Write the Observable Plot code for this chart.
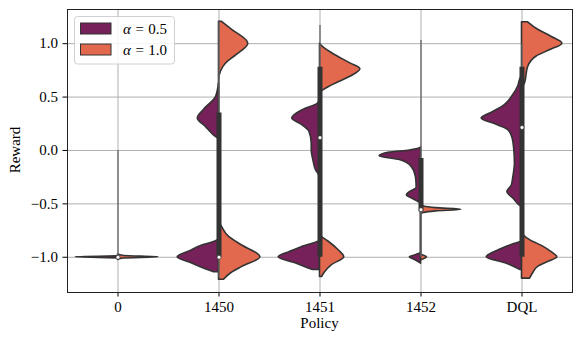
<!DOCTYPE html>
<html>
<head>
<meta charset="utf-8">
<script src="https://cdn.jsdelivr.net/npm/d3@7"></script>
<script src="https://cdn.jsdelivr.net/npm/@observablehq/plot@0.6"></script>
<style>
  html, body { margin: 0; padding: 0; background: #fff; }
  #chart { width: 582px; height: 343px; }
</style>
</head>
<body>
<div id="chart"></div>
<script>
// ---- categories / series ----
const policies = ["0", "1450", "1451", "1452", "DQL"];
const hueLabels = ["0.5", "1.0"];
const hueColors = ["#762159", "#e2694e"];
const yTicks = [-1.0, -0.5, 0.0, 0.5, 1.0];

// half-violin density profiles: [reward, half-width in category units]
const v0_a05 = [[-1.01, 0], [-1.0, 0.42], [-0.99, 0]];
const v0_a10 = [[-1.025, 0], [-1.012, 0.06], [-1.0, 0.40], [-0.988, 0.06], [-0.975, 0]];

const v1450_a05 = [[-1.14, 0.05], [-1.105, 0.15], [-1.06, 0.26], [-1.0, 0.41], [-0.94, 0.28], [-0.89, 0.165], [-0.85, 0.03], [-0.83, 0], [0.10, 0], [0.14, 0.05], [0.22, 0.13], [0.30, 0.21], [0.38, 0.15], [0.50, 0.03], [0.63, 0]];
const v1450_a10 = [[-1.21, 0.05], [-1.15, 0.12], [-1.09, 0.23], [-1.0, 0.41], [-0.89, 0.23], [-0.81, 0.10], [-0.715, 0.03], [-0.66, 0], [0.65, 0], [0.74, 0.02], [0.815, 0.07], [0.89, 0.17], [1.0, 0.29], [1.13, 0.13], [1.205, 0.03]];

const v1451_a05 = [[-1.12, 0.07], [-1.06, 0.23], [-1.0, 0.41], [-0.95, 0.30], [-0.90, 0.165], [-0.84, 0], [-0.25, 0], [-0.185, 0.04], [-0.09, 0.066], [0.0, 0.082], [0.065, 0.082], [0.175, 0.105], [0.24, 0.18], [0.30, 0.275], [0.38, 0.165], [0.44, 0.02], [0.48, 0]];
const v1451_a10 = [[-1.185, 0.02], [-1.14, 0.05], [-1.075, 0.115], [-1.0, 0.24], [-0.93, 0.18], [-0.85, 0.08], [-0.81, 0.02], [-0.78, 0], [0.53, 0], [0.61, 0.12], [0.69, 0.30], [0.76, 0.40], [0.815, 0.30], [0.91, 0.12], [0.96, 0.04], [1.0, 0]];

const v1452_a05 = [[-1.06, 0], [-1.03, 0.05], [-1.0, 0.11], [-0.98, 0.05], [-0.955, 0], [-0.50, 0], [-0.48, 0.027], [-0.45, 0.09], [-0.42, 0.14], [-0.39, 0.11], [-0.35, 0.043], [-0.25, 0.05], [-0.155, 0.092], [-0.09, 0.21], [-0.055, 0.41], [-0.02, 0.31], [0.0, 0.11], [0.02, 0.01], [0.03, 0]];
const v1452_a10 = [[-1.03, 0], [-1.0, 0.06], [-0.97, 0], [-0.60, 0], [-0.585, 0.03], [-0.57, 0.15], [-0.555, 0.40], [-0.54, 0.15], [-0.525, 0.03], [-0.51, 0]];

const vDQL_a05 = [[-1.12, 0.015], [-1.06, 0.15], [-1.0, 0.35], [-0.96, 0.29], [-0.93, 0.22], [-0.88, 0.09], [-0.855, 0.01], [-0.84, 0], [-0.54, 0], [-0.50, 0.04], [-0.45, 0.086], [-0.39, 0.145], [-0.325, 0.10], [-0.25, 0.086], [-0.12, 0.07], [0.0, 0.076], [0.11, 0.092], [0.19, 0.135], [0.24, 0.25], [0.30, 0.40], [0.36, 0.285], [0.425, 0.17], [0.50, 0.10], [0.60, 0.037], [0.66, 0.02], [0.70, 0]];
const vDQL_a10 = [[-1.2, 0.08], [-1.15, 0.11], [-1.09, 0.16], [-1.04, 0.27], [-1.0, 0.35], [-0.95, 0.29], [-0.9, 0.21], [-0.84, 0.08], [-0.76, 0], [0.565, 0], [0.63, 0.03], [0.78, 0.06], [0.88, 0.145], [0.94, 0.28], [1.0, 0.40], [1.065, 0.29], [1.13, 0.16], [1.2, 0.06]];

// inner box statistics per policy
const boxQ1 = [-1.0, -1.0, -1.0, -0.575, -1.0];
const boxQ3 = [-1.0, 0.35, 0.78, -0.075, 0.78];
const boxMedian = [-1.0, -1.0, 0.12, -0.555, 0.215];
const whiskerLo = [-1.0, -1.2, -1.0, -1.0, -1.0];
const whiskerHi = [0.0, 1.2, 1.17, 1.03, 1.0];

// ---- build tables ----
const leftProfiles = [v0_a05, v1450_a05, v1451_a05, v1452_a05, vDQL_a05];
const rightProfiles = [v0_a10, v1450_a10, v1451_a10, v1452_a10, vDQL_a10];
const toRows = (profiles) => profiles.flatMap((prof, i) => prof.map(([r, w]) => ({i, r, w})));
const leftRows = toRows(leftProfiles);
const rightRows = toRows(rightProfiles);
const boxes = policies.map((p, i) => ({i, q1: boxQ1[i], q3: boxQ3[i], med: boxMedian[i], lo: whiskerLo[i], hi: whiskerHi[i]}));

const FONT = "Liberation Serif, Times New Roman, serif";
const edge = "#333333";

const plot = Plot.plot({
  width: 582,
  height: 343,
  marginLeft: 67,
  marginRight: 10,
  marginTop: 9,
  marginBottom: 51,
  style: {fontFamily: FONT, fontSize: "15px", color: "#000", background: "#fff", overflow: "visible"},
  x: {domain: [-0.5, 4.5], ticks: [0, 1, 2, 3, 4], tickFormat: (d) => policies[d], tickSize: 4.5, tickPadding: 4, label: null},
  y: {domain: [-1.33, 1.32], ticks: yTicks, tickFormat: d3.format(".1f"), tickSize: 4.5, tickPadding: 5, label: null},
  marks: [
    Plot.gridX([0, 1, 2, 3, 4], {stroke: "#b0b0b0", strokeOpacity: 1, strokeWidth: 1}),
    Plot.gridY(yTicks, {stroke: "#b0b0b0", strokeOpacity: 1, strokeWidth: 1}),
    Plot.areaX(leftRows, {y: "r", x1: "i", x2: (d) => d.i - d.w, z: "i", fill: hueColors[0], stroke: edge, strokeWidth: 1.6, strokeLinejoin: "round", curve: "monotone-y"}),
    Plot.areaX(rightRows, {y: "r", x1: "i", x2: (d) => d.i + d.w, z: "i", fill: hueColors[1], stroke: edge, strokeWidth: 1.6, strokeLinejoin: "round", curve: "monotone-y"}),
    Plot.ruleX(boxes, {x: "i", y1: "lo", y2: "hi", stroke: "#666", strokeWidth: 1.3}),
    Plot.ruleX(boxes, {x: "i", y1: "q1", y2: "q3", stroke: edge, strokeWidth: 5}),
    Plot.dot(boxes, {x: "i", y: "med", r: 2, fill: "white", stroke: edge, strokeWidth: 0.7}),
    Plot.frame({stroke: "#222", strokeWidth: 1})
  ]
});

document.getElementById("chart").appendChild(plot);

// axis titles and legend
const svg = d3.select(plot);
svg.append("text")
  .attr("transform", "translate(20,150) rotate(-90)")
  .attr("text-anchor", "middle")
  .attr("font-family", FONT).attr("font-size", "15px").attr("fill", "#000")
  .text("Reward");
svg.append("text")
  .attr("x", 319.5).attr("y", 328)
  .attr("text-anchor", "middle")
  .attr("font-family", FONT).attr("font-size", "15px").attr("fill", "#000")
  .text("Policy");

const lg = svg.append("g").attr("text-anchor", "start");
lg.append("rect").attr("x", 74.5).attr("y", 16.5).attr("width", 100).attr("height", 47.5)
  .attr("rx", 3).attr("fill", "#fff").attr("fill-opacity", 0.85).attr("stroke", "#d0d0d0");
hueLabels.forEach((lab, k) => {
  const y0 = 23 + k * 21;
  lg.append("rect").attr("x", 80.5).attr("y", y0).attr("width", 30.5).attr("height", 11)
    .attr("fill", hueColors[k]).attr("stroke", edge).attr("stroke-width", 1);
  const t = lg.append("text").attr("x", 123).attr("y", y0 + 10.5).attr("text-anchor", "start")
    .attr("font-family", FONT).attr("font-size", "15px").attr("fill", "#000");
  t.append("tspan").attr("font-style", "italic").text("α");
  t.append("tspan").attr("dx", 4.5).text("=");
  t.append("tspan").attr("dx", 4.5).text(lab);
});
</script>
</body>
</html>
